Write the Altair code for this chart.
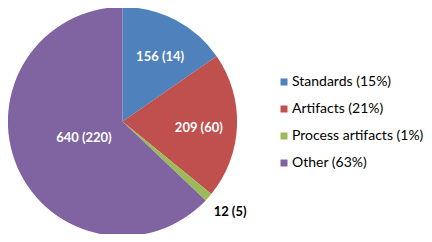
import altair as alt
import pandas as pd

categories = ["Standards", "Artifacts", "Process artifacts", "Other"]
values = [156, 209, 12, 640]
secondary = [14, 60, 5, 220]
percents = [15, 21, 1, 63]
colors = ["#4F81BD", "#C0504D", "#9BBB59", "#8064A2"]

legend_labels = [f"{c} ({p}%)" for c, p in zip(categories, percents)]
slice_labels = [f"{v} ({s})" for v, s in zip(values, secondary)]

df = pd.DataFrame({
    "category": categories,
    "value": values,
    "idx": list(range(len(categories))),
    "legend": legend_labels,
    "label": slice_labels,
})

W, H = 416, 226
cx, cy = 114.5, 113.6
R = 114.6
FONT = "Lato"

base = alt.Chart(df).encode(
    theta=alt.Theta("value:Q", stack=True),
    order=alt.Order("idx:Q"),
)

pie = base.mark_arc(outerRadius=R, strokeWidth=0).encode(
    x=alt.value(cx),
    y=alt.value(cy),
    color=alt.Color(
        "legend:N",
        sort=legend_labels,
        scale=alt.Scale(domain=legend_labels, range=colors),
        legend=alt.Legend(
            title=None,
            orient="none",
            legendX=269,
            legendY=67,
            symbolType="square",
            symbolSize=49,
            symbolStrokeWidth=0,
            symbolOpacity=1,
            labelFont=FONT,
            labelFontSize=14,
            labelColor="#000000",
            labelOffset=1,
            rowPadding=13,
            padding=0,
        ),
    ),
)


def label_layer(cat, radius, color, dx=0, dy=0):
    return base.mark_text(
        radius=radius, font=FONT, fontSize=13, fontWeight="bold",
        color=color, align="center", baseline="middle", dx=dx, dy=dy,
    ).encode(
        x=alt.value(cx), y=alt.value(cy), text="t:N"
    ).transform_calculate(
        t=f"datum.category == '{cat}' ? datum.label : ''"
    )


layers = [
    pie,
    label_layer("Standards", 74.7, "white", dx=3, dy=1.5),
    label_layer("Artifacts", 76.4, "white", dy=3),
    label_layer("Other", 42, "white"),
    label_layer("Process artifacts", 140.6, "black", dx=2, dy=-2.5),
]

chart = alt.layer(*layers).properties(
    width=W, height=H, padding=0, autosize="none"
).configure_view(stroke=None)

chart.save("out.html", embed_options={"renderer": "svg", "actions": False})
